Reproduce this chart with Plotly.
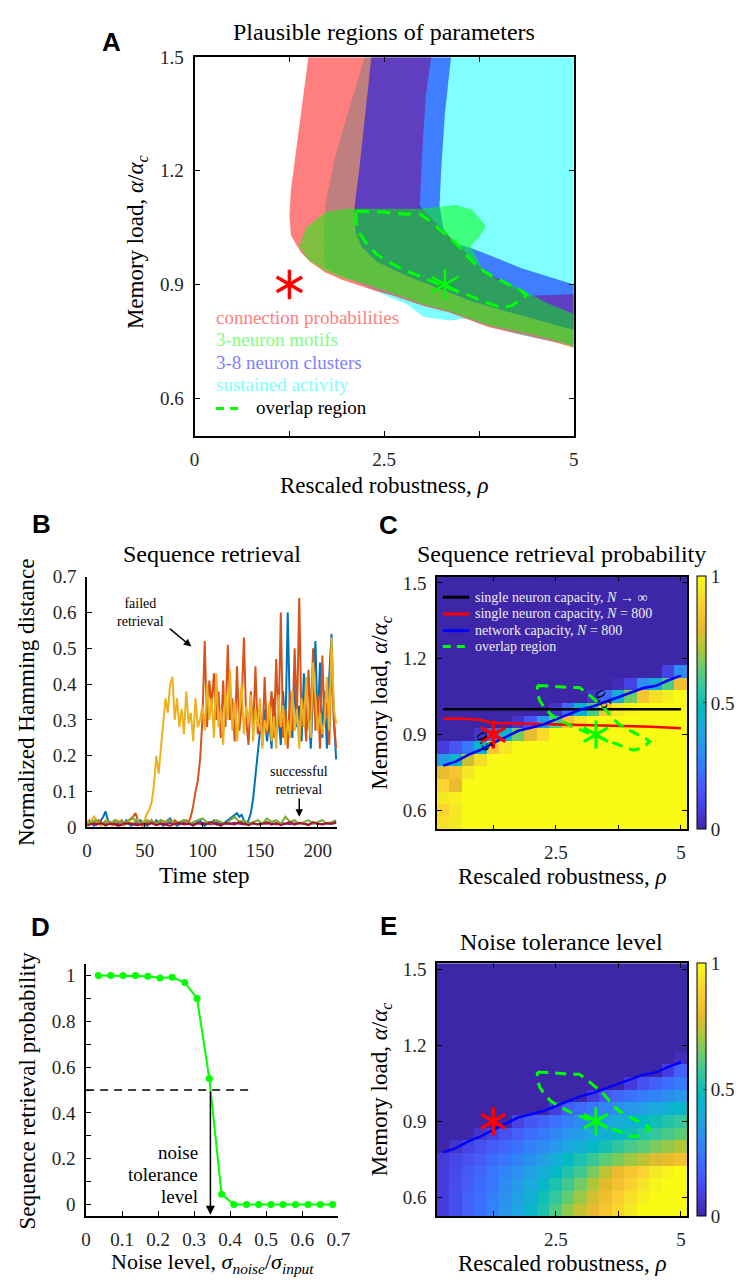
import plotly.graph_objects as go

W, H = 751, 1285
SERIF = "Liberation Serif"
SANS = "Liberation Sans"
TXT = "#262626"

# ---------------- Panel A : plausible regions (boundaries in data units) ----------------
A_cyan_x = [2.24, 2.05, 1.85, 1.72, 1.70, 1.72, 1.85, 2.05, 2.28, 2.59, 2.80, 3.02, 3.36, 3.58, 3.88, 4.31, 4.74, 5.00, 5.00]
A_cyan_y = [1.50, 1.37, 1.237, 1.107, 1.00, 0.945, 0.93, 0.915, 0.893, 0.865, 0.848, 0.814, 0.805, 0.81, 0.79, 0.766, 0.748, 0.74, 1.50]

A_red_x = [1.50, 1.44, 1.38, 1.31, 1.27, 1.25, 1.27, 1.34, 1.40, 1.52, 1.72, 1.95, 2.20, 2.40, 2.59, 3.02, 3.36, 3.58, 3.88, 4.31, 4.74, 5.00,
           5.00, 4.70, 4.40, 4.15, 3.95, 3.80, 3.66, 3.48, 3.30, 3.12, 2.97, 3.00, 3.05, 3.12]
A_red_y = [1.50, 1.41, 1.32, 1.21, 1.15, 1.08, 1.03, 1.005, 0.985, 0.96, 0.932, 0.912, 0.895, 0.882, 0.872, 0.843, 0.826, 0.81, 0.787, 0.768, 0.748, 0.733,
           0.875, 0.872, 0.870, 0.90, 0.92, 0.94, 0.965, 1.005, 1.04, 1.075, 1.107, 1.25, 1.40, 1.50]

A_blue_x = [2.33, 2.25, 2.18, 2.11, 2.12, 2.20, 2.40, 2.80, 3.20, 3.66, 4.09, 4.53, 5.00,
            5.00, 4.74, 4.31, 3.88, 3.66, 3.41, 3.28, 3.23, 3.25, 3.30, 3.38]
A_blue_y = [1.50, 1.35, 1.22, 1.107, 1.04, 1.00, 0.96, 0.922, 0.89, 0.855, 0.83, 0.805, 0.78,
            0.90, 0.917, 0.943, 0.978, 0.995, 1.01, 1.047, 1.107, 1.20, 1.35, 1.50]

A_green_x = [1.38, 1.50, 1.72, 1.95, 2.28, 2.59, 3.02, 3.36, 3.58, 3.88, 4.31, 4.74, 5.00,
             5.00, 4.66, 4.40, 4.22, 4.00, 3.79, 3.64, 3.75, 3.84, 3.66, 3.45, 3.28, 2.97, 2.50, 2.13, 1.98, 1.72, 1.47]
A_green_y = [1.00, 0.965, 0.937, 0.918, 0.90, 0.878, 0.848, 0.83, 0.814, 0.792, 0.775, 0.753, 0.735,
             0.822, 0.85, 0.877, 0.895, 0.912, 0.943, 1.003, 1.024, 1.054, 1.097, 1.11, 1.107, 1.10, 1.10, 1.10, 1.10, 1.09, 1.05]

OV_x = [2.13, 2.41, 2.76, 2.97, 3.10, 3.28, 3.45, 3.62, 3.75, 3.92, 4.14, 4.31, 4.375, 4.31, 4.18, 4.05, 3.88, 3.71, 3.53, 3.36, 3.19, 3.02, 2.80, 2.59, 2.41, 2.28, 2.18, 2.13, 2.13]
OV_y = [1.094, 1.092, 1.086, 1.086, 1.068, 1.038, 1.008, 0.969, 0.943, 0.922, 0.90, 0.883, 0.872, 0.861, 0.844, 0.838, 0.85, 0.864, 0.878, 0.89, 0.903, 0.917, 0.935, 0.956, 0.978, 1.004, 1.034, 1.064, 1.094]

RED_STAR = (1.25, 0.90)
GREEN_STAR = (3.30, 0.90)

A_legend = ["connection probabilities", "3-neuron motifs", "3-8 neuron clusters", "sustained activity"]

# ---------------- Panel B : Hamming distance time series ----------------
B_blue = [0.01, 0.015, 0.01, 0.005, 0.01, 0.015, 0.02, 0.03, 0.045, 0.02,
          0.01, 0.015, 0.01, 0.005, 0.01, 0.015, 0.01, 0.02, 0.01, 0.005,
          0.01, 0.015, 0.01, 0.02, 0.015, 0.01, 0.005, 0.01, 0.015, 0.01,
          0.02, 0.015, 0.01, 0.005, 0.01, 0.02, 0.025, 0.015, 0.01, 0.005,
          0.01, 0.015, 0.02, 0.01, 0.015, 0.01, 0.005, 0.01, 0.015, 0.02,
          0.01, 0.005, 0.01, 0.015, 0.01, 0.02, 0.015, 0.01, 0.005, 0.01,
          0.015, 0.02, 0.025, 0.03, 0.035, 0.04, 0.03, 0.035, 0.02, 0.01,
          0.02, 0.04, 0.08, 0.15, 0.22, 0.27, 0.26, 0.33, 0.24, 0.3,
          0.22, 0.36, 0.26, 0.31, 0.23, 0.38, 0.27, 0.6, 0.3, 0.25,
          0.41, 0.28, 0.34, 0.24, 0.43, 0.27, 0.33, 0.22, 0.37, 0.52,
          0.28, 0.46, 0.25, 0.38, 0.22, 0.42, 0.54, 0.3, 0.19]
B_orange = [0.01, 0.02, 0.01, 0.015, 0.01, 0.02, 0.015, 0.01, 0.005, 0.01,
            0.015, 0.01, 0.02, 0.015, 0.01, 0.02, 0.01, 0.015, 0.02, 0.025,
            0.03, 0.04, 0.02, 0.01, 0.005, 0.01, 0.015, 0.01, 0.02, 0.01,
            0.015, 0.01, 0.02, 0.015, 0.01, 0.02, 0.015, 0.01, 0.02, 0.015,
            0.01, 0.015, 0.01, 0.02, 0.015,
            0.03, 0.06, 0.1, 0.13, 0.19, 0.3, 0.52, 0.28, 0.41, 0.34,
            0.43, 0.3, 0.38, 0.25, 0.41, 0.28, 0.51, 0.3, 0.36, 0.24,
            0.45, 0.27, 0.34, 0.53, 0.3, 0.23, 0.38, 0.27, 0.45, 0.26,
            0.33, 0.23, 0.42, 0.26, 0.31, 0.38, 0.25, 0.47, 0.28, 0.6,
            0.25, 0.33, 0.22, 0.38, 0.27, 0.5, 0.3, 0.64, 0.28, 0.35,
            0.24, 0.44, 0.3, 0.5, 0.27, 0.37, 0.22, 0.48, 0.29, 0.35,
            0.23, 0.47, 0.3, 0.22]
B_yellow = [0.02, 0.01, 0.02, 0.03, 0.02, 0.01, 0.005, 0.01, 0.02, 0.015,
            0.01, 0.005, 0.01, 0.02, 0.015, 0.01, 0.005, 0.01, 0.02, 0.01,
            0.015, 0.01, 0.02, 0.01, 0.015, 0.02,
            0.04, 0.05, 0.07, 0.12, 0.2, 0.15, 0.22, 0.3, 0.36, 0.32,
            0.4, 0.42, 0.3, 0.36, 0.28, 0.33, 0.26, 0.38, 0.29, 0.32,
            0.24, 0.36, 0.28, 0.3, 0.34, 0.27, 0.4, 0.3, 0.36, 0.25,
            0.43, 0.28, 0.33, 0.23, 0.38, 0.3, 0.44, 0.27, 0.35, 0.24,
            0.32, 0.4, 0.26, 0.34, 0.29, 0.37, 0.24, 0.33, 0.28, 0.36,
            0.22, 0.3, 0.27, 0.35, 0.24, 0.31, 0.22, 0.37, 0.28, 0.34,
            0.23, 0.3, 0.25, 0.38, 0.27, 0.33, 0.22, 0.36, 0.28, 0.42,
            0.3, 0.25, 0.46, 0.35, 0.27, 0.32, 0.26, 0.3, 0.42, 0.27,
            0.53, 0.33, 0.29]
B_purple = [0.01, 0.012, 0.008, 0.01, 0.014, 0.009, 0.011, 0.008, 0.012, 0.01,
            0.009, 0.013, 0.01, 0.008, 0.012, 0.01, 0.011, 0.009, 0.013, 0.01,
            0.008, 0.012, 0.01, 0.009, 0.011, 0.013, 0.01, 0.008, 0.012, 0.01,
            0.009, 0.011, 0.013, 0.01, 0.008, 0.012, 0.01, 0.009, 0.011, 0.01,
            0.013, 0.008, 0.012, 0.01, 0.009, 0.011, 0.013, 0.01, 0.008, 0.012,
            0.01, 0.009, 0.011, 0.01, 0.012]
B_green = [0.01, 0.015, 0.02, 0.01, 0.015, 0.01, 0.02, 0.015, 0.01, 0.02,
           0.025, 0.015, 0.01, 0.02, 0.015, 0.01, 0.02, 0.015, 0.02, 0.01,
           0.015, 0.02, 0.01, 0.015, 0.02, 0.025, 0.015, 0.01, 0.02, 0.015,
           0.01, 0.02, 0.03, 0.015, 0.02, 0.01, 0.015, 0.02, 0.01, 0.025,
           0.015, 0.02, 0.01, 0.03, 0.015, 0.02, 0.01, 0.015, 0.02, 0.01,
           0.015, 0.02, 0.01, 0.015, 0.02]
B_darkred = [0.005, 0.01, 0.008, 0.012, 0.006, 0.01, 0.008, 0.005, 0.01, 0.012,
             0.008, 0.006, 0.01, 0.008, 0.012, 0.006, 0.01, 0.008, 0.005, 0.01,
             0.012, 0.008, 0.01, 0.006, 0.012, 0.008, 0.01, 0.015, 0.008, 0.006,
             0.012, 0.01, 0.008, 0.015, 0.01, 0.006, 0.012, 0.008, 0.01, 0.015,
             0.008, 0.012, 0.006, 0.01, 0.015, 0.008, 0.012, 0.01, 0.006, 0.015,
             0.01, 0.008, 0.012, 0.01, 0.015]
B_t_fine = list(range(0, 2 * len(B_blue), 2))      # time steps, every 2
B_t_coarse = list(range(0, 4 * len(B_green), 4))   # time steps, every 4

# ---------------- Panel C / E : heatmaps ----------------
HM_x = [0.25, 0.5, 0.75, 1.0, 1.25, 1.5, 1.75, 2.0, 2.25, 2.5, 2.75, 3.0, 3.25, 3.5, 3.75, 4.0, 4.25, 4.5, 4.75, 5.0]
HM_y = [1.5, 1.45, 1.4, 1.35, 1.3, 1.25, 1.2, 1.15, 1.1, 1.05, 1.0, 0.95, 0.9, 0.85, 0.8, 0.75, 0.7, 0.65, 0.6, 0.55]

C_z = [
    [0, 0, 0, 0, 0, 0, 0, 0, 0, 0, 0, 0, 0, 0, 0, 0, 0, 0, 0, 0],
    [0, 0, 0, 0, 0, 0, 0, 0, 0, 0, 0, 0, 0, 0, 0, 0, 0, 0, 0, 0],
    [0, 0, 0, 0, 0, 0, 0, 0, 0, 0, 0, 0, 0, 0, 0, 0, 0, 0, 0, 0],
    [0, 0, 0, 0, 0, 0, 0, 0, 0, 0, 0, 0, 0, 0, 0, 0, 0, 0, 0, 0],
    [0, 0, 0, 0, 0, 0, 0, 0, 0, 0, 0, 0, 0, 0, 0, 0, 0, 0, 0, 0],
    [0, 0, 0, 0, 0, 0, 0, 0, 0, 0, 0, 0, 0, 0, 0, 0, 0, 0, 0, 0],
    [0, 0, 0, 0, 0, 0, 0, 0, 0, 0, 0, 0, 0, 0, 0, 0, 0, 0, 0, 0],
    [0, 0, 0, 0, 0, 0, 0, 0, 0, 0, 0, 0, 0, 0, 0, 0, 0, 0, 0.1, 0.3],
    [0, 0, 0, 0, 0, 0, 0, 0, 0, 0, 0, 0, 0, 0, 0.02, 0.1, 0.3, 0.42, 0.6, 0.82],
    [0, 0, 0, 0, 0, 0, 0, 0, 0, 0, 0, 0, 0.05, 0.2, 0.42, 0.65, 0.85, 0.93, 0.97, 1],
    [0, 0, 0, 0, 0, 0, 0, 0, 0, 0.05, 0.2, 0.45, 0.6, 0.85, 0.95, 0.98, 1, 1, 1, 1],
    [0, 0, 0, 0, 0, 0, 0.05, 0.15, 0.35, 0.6, 0.85, 0.95, 1, 1, 1, 1, 1, 1, 1, 1],
    [0, 0, 0, 0.05, 0.2, 0.45, 0.65, 0.8, 0.92, 1, 1, 1, 1, 1, 1, 1, 1, 1, 1, 1],
    [0.08, 0.15, 0.25, 0.45, 0.85, 0.95, 1, 1, 1, 1, 1, 1, 1, 1, 1, 1, 1, 1, 1, 1],
    [0.35, 0.45, 0.75, 0.92, 1, 1, 1, 1, 1, 1, 1, 1, 1, 1, 1, 1, 1, 1, 1, 1],
    [0.8, 0.85, 0.95, 1, 1, 1, 1, 1, 1, 1, 1, 1, 1, 1, 1, 1, 1, 1, 1, 1],
    [0.9, 0.8, 1, 1, 1, 1, 1, 1, 1, 1, 1, 1, 1, 1, 1, 1, 1, 1, 1, 1],
    [0.95, 0.97, 1, 1, 1, 1, 1, 1, 1, 1, 1, 1, 1, 1, 1, 1, 1, 1, 1, 1],
    [0.9, 0.95, 1, 1, 1, 1, 1, 1, 1, 1, 1, 1, 1, 1, 1, 1, 1, 1, 1, 1],
    [0.93, 0.95, 1, 1, 1, 1, 1, 1, 1, 1, 1, 1, 1, 1, 1, 1, 1, 1, 1, 1],
]

E_z = [
    [0, 0, 0, 0, 0, 0, 0, 0, 0, 0, 0, 0, 0, 0, 0, 0, 0, 0, 0, 0],
    [0, 0, 0, 0, 0, 0, 0, 0, 0, 0, 0, 0, 0, 0, 0, 0, 0, 0, 0, 0],
    [0, 0, 0, 0, 0, 0, 0, 0, 0, 0, 0, 0, 0, 0, 0, 0, 0, 0, 0, 0],
    [0, 0, 0, 0, 0, 0, 0, 0, 0, 0, 0, 0, 0, 0, 0, 0, 0, 0, 0, 0],
    [0, 0, 0, 0, 0, 0, 0, 0, 0, 0, 0, 0, 0, 0, 0, 0, 0, 0, 0, 0],
    [0, 0, 0, 0, 0, 0, 0, 0, 0, 0, 0, 0, 0, 0, 0, 0, 0, 0, 0, 0],
    [0, 0, 0, 0, 0, 0, 0, 0, 0, 0, 0, 0, 0, 0, 0, 0, 0, 0, 0, 0],
    [0, 0, 0, 0, 0, 0, 0, 0, 0, 0, 0, 0, 0, 0, 0, 0, 0, 0, 0, 0.03],
    [0, 0, 0, 0, 0, 0, 0, 0, 0, 0, 0, 0, 0, 0, 0, 0, 0, 0, 0.08, 0.18],
    [0, 0, 0, 0, 0, 0, 0, 0, 0, 0, 0, 0, 0, 0, 0, 0.08, 0.14, 0.18, 0.22, 0.26],
    [0, 0, 0, 0, 0, 0, 0, 0, 0, 0, 0, 0, 0.08, 0.15, 0.2, 0.23, 0.26, 0.28, 0.31, 0.34],
    [0, 0, 0, 0, 0, 0, 0, 0, 0, 0.08, 0.17, 0.21, 0.25, 0.28, 0.31, 0.34, 0.37, 0.4, 0.43, 0.46],
    [0, 0, 0, 0, 0, 0, 0.1, 0.15, 0.19, 0.23, 0.27, 0.3, 0.34, 0.38, 0.41, 0.44, 0.47, 0.5, 0.53, 0.56],
    [0, 0, 0, 0.05, 0.1, 0.14, 0.18, 0.22, 0.25, 0.29, 0.33, 0.36, 0.4, 0.43, 0.47, 0.5, 0.53, 0.56, 0.59, 0.62],
    [0, 0.05, 0.1, 0.14, 0.17, 0.2, 0.23, 0.27, 0.3, 0.34, 0.39, 0.43, 0.47, 0.51, 0.55, 0.59, 0.62, 0.66, 0.69, 0.72],
    [0.07, 0.11, 0.14, 0.17, 0.21, 0.24, 0.28, 0.32, 0.37, 0.42, 0.47, 0.52, 0.57, 0.62, 0.66, 0.7, 0.74, 0.78, 0.8, 0.83],
    [0.08, 0.12, 0.16, 0.2, 0.24, 0.28, 0.32, 0.37, 0.42, 0.47, 0.53, 0.58, 0.66, 0.74, 0.8, 0.85, 0.9, 0.95, 0.98, 1],
    [0.08, 0.13, 0.17, 0.21, 0.25, 0.3, 0.35, 0.4, 0.46, 0.52, 0.58, 0.65, 0.72, 0.79, 0.84, 0.89, 0.94, 0.98, 1, 1],
    [0.08, 0.13, 0.18, 0.22, 0.27, 0.32, 0.37, 0.43, 0.5, 0.56, 0.63, 0.7, 0.77, 0.82, 0.88, 0.93, 0.97, 1, 1, 1],
    [0.08, 0.13, 0.18, 0.23, 0.28, 0.33, 0.39, 0.45, 0.52, 0.6, 0.68, 0.75, 0.8, 0.85, 0.9, 0.95, 1, 1, 1, 1],
]

CAP_x = [0.25, 0.5, 0.75, 1.0, 1.25, 1.5, 1.75, 2.0, 2.25, 2.5, 2.75, 3.0, 3.25, 3.5, 3.75, 4.0, 4.25, 4.5, 4.75, 5.0]
NET_cap = [0.777, 0.793, 0.82, 0.84, 0.866, 0.89, 0.915, 0.927, 0.94, 0.96, 0.98, 0.999, 1.012, 1.03, 1.046, 1.065, 1.084, 1.093, 1.115, 1.133]
SN800_cap = [0.964, 0.963, 0.962, 0.958, 0.946, 0.945, 0.944, 0.943, 0.942, 0.941, 0.94, 0.94, 0.939, 0.938, 0.937, 0.934, 0.932, 0.93, 0.928, 0.925]
SNINF_x = [0.25, 5.0]
SNINF_y = [1.0, 1.0]
CONTOUR_LABELS = [(1.07, 0.873), (3.45, 1.041)]
C_legend = ["single neuron capacity, <i>N</i> \u2192 \u221e",
            "single neuron capacity, <i>N</i> = 800",
            "network capacity, <i>N</i> = 800",
            "overlap region"]

# ---------------- Panel D : retrieval vs noise ----------------
D_noise = [0.034, 0.068, 0.103, 0.137, 0.171, 0.205, 0.239, 0.274, 0.308, 0.342,
           0.376, 0.41, 0.445, 0.479, 0.513, 0.547, 0.581, 0.616, 0.65, 0.684]
D_prob = [1.0, 1.0, 1.0, 1.0, 0.997, 0.99, 0.993, 0.97, 0.9, 0.55,
          0.045, 0, 0, 0, 0, 0, 0, 0, 0, 0]
D_half_x = [0, 0.46]
D_half_y = [0.5, 0.5]
D_tol = 0.345

PARULA = [[0.0, 'rgb(62,38,168)'], [0.079, 'rgb(70,60,222)'], [0.159, 'rgb(71,88,248)'],
          [0.238, 'rgb(56,117,254)'], [0.317, 'rgb(43,145,239)'], [0.397, 'rgb(28,169,223)'],
          [0.476, 'rgb(2,186,195)'], [0.556, 'rgb(49,198,159)'], [0.635, 'rgb(100,205,111)'],
          [0.714, 'rgb(171,199,57)'], [0.794, 'rgb(230,187,45)'], [0.873, 'rgb(254,201,52)'],
          [0.952, 'rgb(245,233,36)'], [1.0, 'rgb(249,251,21)']]

LIME = 'rgb(0,255,0)'


def px(v):
    return v / W


def py(v):
    return 1 - v / H


fig = go.Figure()


def poly(x, y, color, xa, ya):
    fig.add_trace(go.Scatter(x=x, y=y, fill='toself', fillcolor=color, mode='lines',
                             line=dict(width=0), xaxis=xa, yaxis=ya, hoverinfo='skip'))


def star(pt, color, xa, ya, size, width):
    for ang in (0, 60, 120):
        fig.add_trace(go.Scatter(x=[pt[0]], y=[pt[1]], mode='markers', xaxis=xa, yaxis=ya,
                                 marker=dict(symbol='line-ns-open', size=size, angle=ang, color=color,
                                             line=dict(color=color, width=width)),
                                 hoverinfo='skip'))


# ---- A ----
poly(A_cyan_x, A_cyan_y, 'rgba(0,255,255,0.5)', 'x', 'y')
poly(A_red_x, A_red_y, 'rgba(255,0,0,0.5)', 'x', 'y')
poly(A_blue_x, A_blue_y, 'rgba(0,0,255,0.5)', 'x', 'y')
poly(A_green_x, A_green_y, 'rgba(0,255,0,0.5)', 'x', 'y')
fig.add_trace(go.Scatter(x=OV_x, y=OV_y, mode='lines', xaxis='x', yaxis='y',
                         line=dict(color=LIME, width=3, dash='13px,8px')))
star(RED_STAR, 'red', 'x', 'y', 21, 3.5)
star(GREEN_STAR, LIME, 'x', 'y', 22, 2.5)

# ---- B ----
for series, t, col in [(B_blue, B_t_fine, '#0072BD'), (B_orange, B_t_fine, '#D95319'),
                       (B_yellow, B_t_fine, '#EDB120'), (B_purple, B_t_coarse, '#7E2F8E'),
                       (B_green, B_t_coarse, '#77AC30'), (B_darkred, B_t_coarse, '#A2142F')]:
    fig.add_trace(go.Scatter(x=t, y=series, mode='lines', xaxis='x2', yaxis='y2',
                             line=dict(color=col, width=2)))

# ---- C ----
cbar_common = dict(xanchor='left', yanchor='middle', lenmode='fraction', thickness=9,
                   thicknessmode='pixels', xpad=0, ypad=0, outlinewidth=1, outlinecolor='black',
                   tickvals=[0, 0.5, 1], ticktext=['0', '0.5', '1'], ticks='inside', ticklen=3,
                   tickfont=dict(family=SERIF, size=19, color=TXT))
fig.add_trace(go.Heatmap(x=HM_x, y=HM_y, z=C_z, colorscale=PARULA, zmin=0, zmax=1,
                         xaxis='x3', yaxis='y3', hoverinfo='skip',
                         colorbar=dict(x=px(708), y=py(704.5), len=257 / H, **cbar_common)))
fig.add_trace(go.Scatter(x=SNINF_x, y=SNINF_y, mode='lines', xaxis='x3', yaxis='y3',
                         line=dict(color='black', width=2.5)))
fig.add_trace(go.Scatter(x=CAP_x, y=SN800_cap, mode='lines', xaxis='x3', yaxis='y3',
                         line=dict(color='red', width=2.5)))
fig.add_trace(go.Scatter(x=CAP_x, y=NET_cap, mode='lines', xaxis='x3', yaxis='y3',
                         line=dict(color='blue', width=2.5)))
fig.add_trace(go.Scatter(x=OV_x, y=OV_y, mode='lines', xaxis='x3', yaxis='y3',
                         line=dict(color=LIME, width=3, dash='11px,7px')))
star(RED_STAR, 'red', 'x3', 'y3', 20, 3.5)
star(GREEN_STAR, LIME, 'x3', 'y3', 20, 3)

# ---- D ----
fig.add_trace(go.Scatter(x=D_half_x, y=D_half_y, mode='lines', xaxis='x4', yaxis='y4',
                         line=dict(color='black', width=1.5, dash='8px,6px')))
fig.add_trace(go.Scatter(x=D_noise, y=D_prob, mode='lines+markers', xaxis='x4', yaxis='y4',
                         line=dict(color=LIME, width=2), marker=dict(color=LIME, size=7)))

# ---- E ----
fig.add_trace(go.Heatmap(x=HM_x, y=HM_y, z=E_z, colorscale=PARULA, zmin=0, zmax=1,
                         xaxis='x5', yaxis='y5', hoverinfo='skip',
                         colorbar=dict(x=px(708), y=py(1097.5), len=257 / H, **cbar_common)))
fig.add_trace(go.Scatter(x=CAP_x, y=NET_cap, mode='lines', xaxis='x5', yaxis='y5',
                         line=dict(color='blue', width=2.5)))
fig.add_trace(go.Scatter(x=OV_x, y=OV_y, mode='lines', xaxis='x5', yaxis='y5',
                         line=dict(color=LIME, width=3, dash='11px,7px')))
star(RED_STAR, 'red', 'x5', 'y5', 20, 3.5)
star(GREEN_STAR, LIME, 'x5', 'y5', 20, 3)


def axis(domain, rng, anchor, minor_vals=None, **kw):
    d = dict(domain=domain, range=rng, anchor=anchor, showline=True, linecolor='black',
             linewidth=1.5, ticks='inside', ticklen=5, tickwidth=1.2, tickcolor='black',
             showgrid=False, zeroline=False, ticklabelstandoff=5,
             tickfont=dict(family=SERIF, size=19, color=TXT))
    if minor_vals is not None:
        d['minor'] = dict(tickmode='array', tickvals=minor_vals, ticks='inside', ticklen=5,
                          tickwidth=1.2, tickcolor='black', showgrid=False)
    d.update(kw)
    return d


load_ticks = dict(tickvals=[0.6, 0.9, 1.2, 1.5], ticktext=['0.6', '0.9', '1.2', '1.5'])

fig.update_layout(
    width=W, height=H, margin=dict(l=0, r=0, t=0, b=0),
    paper_bgcolor='white', plot_bgcolor='white', showlegend=False,
    xaxis=axis([px(194), px(582)], [0, 5], 'y', minor_vals=[1.25, 3.75], mirror='ticks', linewidth=2,
               tickvals=[0, 2.5, 5], ticktext=['0', '2.5', '5']),
    yaxis=axis([py(433), py(48)], [0.5, 1.5], 'x', mirror='ticks', linewidth=2, **load_ticks),
    xaxis2=axis([px(84), px(340)], [0, 217], 'y2', tickvals=[0, 50, 100, 150, 200]),
    yaxis2=axis([py(831), py(576)], [0, 0.7], 'x2',
                tickvals=[0, 0.1, 0.2, 0.3, 0.4, 0.5, 0.6, 0.7],
                ticktext=['0', '0.1', '0.2', '0.3', '0.4', '0.5', '0.6', '0.7']),
    xaxis3=axis([px(442), px(698)], [0.125, 5.125], 'y3', minor_vals=[1.25, 3.75], mirror='ticks',
                tickvals=[2.5, 5], ticktext=['2.5', '5']),
    yaxis3=axis([py(833), py(576)], [0.525, 1.525], 'x3', mirror='ticks', **load_ticks),
    xaxis4=axis([px(83), px(341)], [0, 0.7], 'y4',
                tickvals=[0, 0.1, 0.2, 0.3, 0.4, 0.5, 0.6, 0.7],
                ticktext=['0', '0.1', '0.2', '0.3', '0.4', '0.5', '0.6', '0.7']),
    yaxis4=axis([py(1226), py(970)], [-0.05, 1.05], 'x4', minor_vals=[0.1, 0.3, 0.5, 0.7, 0.9],
                tickvals=[0, 0.2, 0.4, 0.6, 0.8, 1.0],
                ticktext=['0', '0.2', '0.4', '0.6', '0.8', '1']),
    xaxis5=axis([px(442), px(698)], [0.125, 5.125], 'y5', minor_vals=[1.25, 3.75], mirror='ticks',
                tickvals=[2.5, 5], ticktext=['2.5', '5']),
    yaxis5=axis([py(1226), py(969)], [0.525, 1.525], 'x5', mirror='ticks', **load_ticks),
)

anns = []


def txt(text, x, y, size=19, color='black', family=SERIF, angle=0, xanchor='center', bold=False):
    if bold:
        text = '<b>' + text + '</b>'
    anns.append(dict(text=text, x=px(x), y=py(y), xref='paper', yref='paper', showarrow=False,
                     font=dict(family=family, size=size, color=color), textangle=angle,
                     xanchor=xanchor, yanchor='middle'))


# titles
txt('Plausible regions of parameters', 388, 22, 24)
txt('Sequence retrieval', 212, 553, 24)
txt('Sequence retrieval probability', 569, 553, 24)
txt('Noise tolerance level', 569, 947, 24)
# panel letters
for L, x, y in [('A', 109, 33), ('B', 37, 523), ('C', 392, 524), ('D', 36, 932), ('E', 392, 931)]:
    txt(L, x, y, 26, family=SANS, bold=True)
# axis titles
load_lbl = 'Memory load, <i>\u03b1</i>/<i>\u03b1<sub>c</sub></i>'
rob_lbl = 'Rescaled robustness, <i>\u03c1</i>'
txt(load_lbl, 135, 236, 23, angle=-90)
txt(rob_lbl, 388, 483, 23)
txt('Normalized Hamming distance', 22, 704, 23, angle=-90)
txt('Time step', 204, 880, 23)
txt(load_lbl, 385, 704, 23, angle=-90)
txt(rob_lbl, 570, 881, 23)
txt('Sequence retrieval probability', 23, 1098, 23, angle=-90)
txt('Noise level, <i>\u03c3<sub>noise</sub></i>/<i>\u03c3<sub>input</sub></i>', 212, 1274, 22)
txt(load_lbl, 385, 1097, 23, angle=-90)
txt(rob_lbl, 570, 1274, 23)

# A legend
for lab, col, y in zip(A_legend, ['rgb(255,128,128)', 'rgb(128,255,128)', 'rgb(128,128,255)', 'rgb(128,255,255)'],
                       [313, 335, 358, 381]):
    txt(lab, 214, y, 19, color=col, xanchor='left')
txt('overlap region', 255, 404, 19, xanchor='left')
# C legend
for lab, y in zip(C_legend, [597, 614, 631, 647]):
    txt(lab, 479, y, 14, color='#EDEDED', xanchor='left')

# B annotations
anns.append(dict(text='failed<br>retrieval', x=46, y=0.60, xref='x2', yref='y2', showarrow=False,
                 font=dict(family=SERIF, size=14, color='black')))
anns.append(dict(text='', x=90.4, y=0.505, ax=70.3, ay=0.558, xref='x2', yref='y2', axref='x2', ayref='y2',
                 showarrow=True, arrowhead=2, arrowsize=1, arrowwidth=1.5, arrowcolor='black', standoff=0))
anns.append(dict(text='successful<br>retrieval', x=184, y=0.132, xref='x2', yref='y2', showarrow=False,
                 font=dict(family=SERIF, size=14, color='black')))
anns.append(dict(text='', x=184, y=0.03, ax=184, ay=0.085, xref='x2', yref='y2', axref='x2', ayref='y2',
                 showarrow=True, arrowhead=2, arrowsize=1, arrowwidth=1.5, arrowcolor='black', standoff=0))
# D annotations
for word, yv in [('noise', 0.228), ('tolerance', 0.131), ('level', 0.036)]:
    anns.append(dict(text=word, x=0.317, y=yv, xref='x4', yref='y4', showarrow=False, xanchor='right',
                     font=dict(family=SERIF, size=19, color='black')))
anns.append(dict(text='', x=D_tol, y=-0.045, ax=D_tol, ay=0.5, xref='x4', yref='y4', axref='x4', ayref='y4',
                 showarrow=True, arrowhead=2, arrowsize=1.2, arrowwidth=1.5, arrowcolor='black', standoff=0))
# C contour labels
for (cx, cy) in CONTOUR_LABELS:
    anns.append(dict(text='0.5', x=cx, y=cy, xref='x3', yref='y3', showarrow=False, textangle=62,
                     font=dict(family=SERIF, size=15, color='black')))

fig.update_layout(annotations=anns)

# legend line samples (paper coordinates)
shapes = [dict(type='line', xref='paper', yref='paper', x0=px(216), x1=px(243), y0=py(405), y1=py(405),
               line=dict(color=LIME, width=3, dash='8px,6px'))]
for col, y, dash in [('black', 597, 'solid'), ('red', 614, 'solid'), ('blue', 631, 'solid'), (LIME, 647, '8px,6px')]:
    shapes.append(dict(type='line', xref='paper', yref='paper', x0=px(448), x1=px(475), y0=py(y), y1=py(y),
                       line=dict(color=col, width=3, dash=dash)))
fig.update_layout(shapes=shapes)

fig.write_html("out.html")
